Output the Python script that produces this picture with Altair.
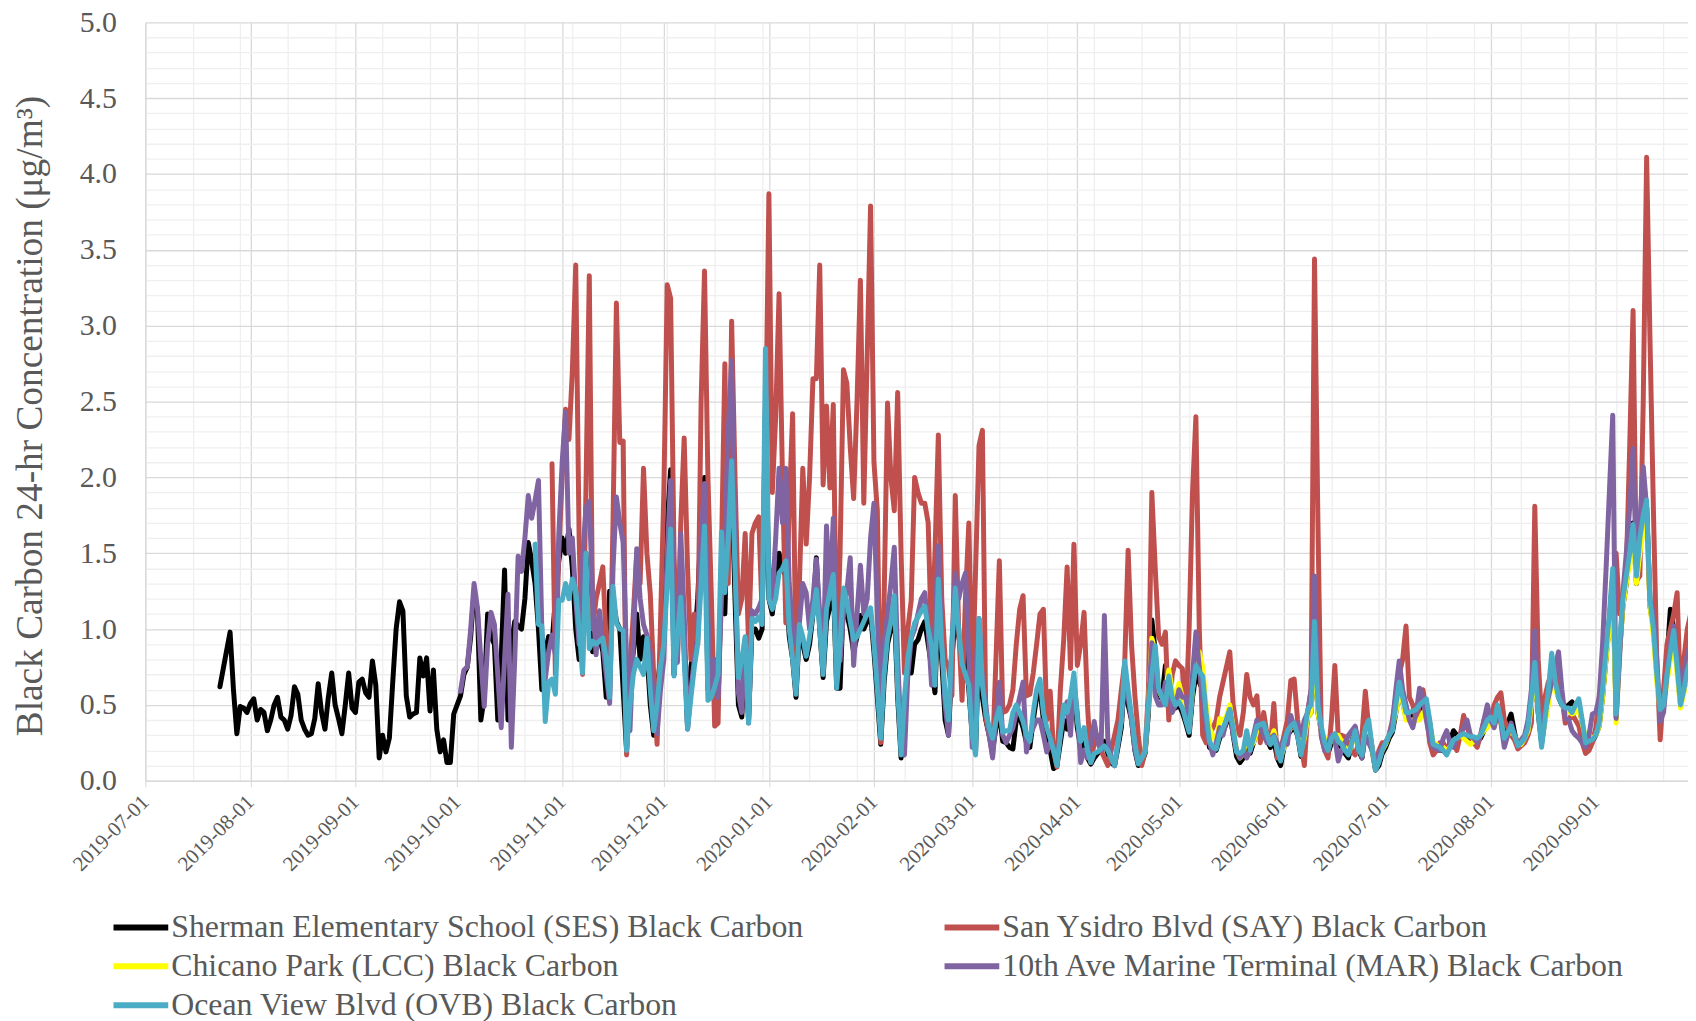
import altair as alt
import pandas as pd

# ---------------- data (daily 24-hr black carbon, ug/m3) ----------------
SERIES = [
    "Sherman Elementary School (SES) Black Carbon",
    "San Ysidro Blvd (SAY) Black Carbon",
    "Chicano Park (LCC) Black Carbon",
    "10th Ave Marine Terminal (MAR) Black Carbon",
    "Ocean View Blvd (OVB) Black Carbon",
]
COLORS = ["#000000", "#C0504D", "#FFFF00", "#8064A2", "#4BACC6"]
STARTS = ["2019-07-23", "2019-10-29", "2020-04-20", "2019-10-02", "2019-10-24"]
# legend is filled column by column: SES, LCC, OVB | SAY, MAR
LEGEND_ORDER = [0, 2, 4, 1, 3]

ses = [
    0.62, 0.74, 0.86, 0.98, 0.60, 0.31, 0.49, 0.48, 0.45, 0.51,
    0.54, 0.40, 0.47, 0.45, 0.33, 0.40, 0.50, 0.55, 0.42, 0.40,
    0.34, 0.43, 0.62, 0.57, 0.40, 0.34, 0.30, 0.31, 0.41, 0.64,
    0.45, 0.34, 0.55, 0.71, 0.50, 0.41, 0.31, 0.50, 0.71, 0.48,
    0.45, 0.65, 0.67, 0.58, 0.55, 0.79, 0.63, 0.15, 0.30, 0.19,
    0.28, 0.65, 1.00, 1.18, 1.12, 0.56, 0.42, 0.44, 0.45, 0.81,
    0.69, 0.81, 0.46, 0.73, 0.34, 0.19, 0.27, 0.12, 0.12, 0.44,
    0.50,
    0.56, 0.70, 0.75, 0.95, 1.25, 1.12, 0.40, 0.55, 1.10, 0.95,
    0.90, 0.40, 0.80, 1.39, 0.40, 0.90, 1.05, 1.02, 1.00, 1.20,
    1.57, 1.45, 1.30, 1.00, 0.60, 0.85, 0.95, 0.90, 1.20, 1.45,
    1.60, 1.50, 1.66, 1.40, 1.00, 0.80, 1.45, 1.50, 1.00, 0.85,
    1.05, 0.95, 0.85, 0.55, 1.25, 1.20, 1.05, 1.00, 0.60, 0.20,
    0.70, 0.85, 1.10, 0.80, 0.95, 0.85, 0.50, 0.30, 0.60, 0.80,
    1.50, 1.70, 2.05, 0.70, 1.20, 1.40, 0.90, 0.35, 0.75, 0.90,
    1.20, 1.70, 2.00, 0.60, 0.85,
    0.70, 0.50, 1.40, 1.10, 1.90, 2.00, 1.20, 0.50, 0.42, 0.90,
    0.40, 1.00, 1.00, 0.94, 1.00, 2.50, 1.20, 1.10, 1.30, 1.50,
    1.40, 1.35, 0.95, 0.80, 0.55, 1.00, 0.90, 0.80, 0.90, 1.10,
    1.47, 1.00, 0.68, 1.05, 1.15, 1.30, 0.61, 0.61, 1.20, 1.10,
    1.00, 0.85, 0.95, 1.09, 1.00, 1.05, 1.10, 0.85, 0.55, 0.24,
    0.65, 0.90, 1.00, 1.15, 0.55, 0.15, 0.50, 0.71, 0.71, 0.90,
    0.93, 1.00, 1.05, 0.90, 0.75, 0.58, 1.20, 0.80, 0.40, 0.30,
    0.80, 1.10, 0.95, 0.84, 0.84, 0.60, 0.30, 0.20, 0.95,
    0.55, 0.40, 0.30, 0.20, 0.35, 0.45, 0.26, 0.25, 0.22, 0.21,
    0.40, 0.42, 0.35, 0.25, 0.22, 0.40, 0.55, 0.60, 0.40, 0.30,
    0.20, 0.08, 0.10, 0.25, 0.40, 0.34, 0.50, 0.65, 0.35, 0.22,
    0.30, 0.15, 0.11, 0.15, 0.18, 0.20, 0.26, 0.18, 0.12, 0.10,
    0.22, 0.35, 0.70, 0.50, 0.40, 0.20, 0.10, 0.12, 0.18, 0.45,
    1.06, 0.85, 0.55, 0.55, 0.76, 0.65, 0.50, 0.48, 0.50, 0.45,
    0.38, 0.30, 0.55, 0.70, 0.65, 0.60, 0.40, 0.22, 0.20, 0.20,
    0.28, 0.32, 0.38, 0.45, 0.30, 0.16, 0.12, 0.15,
    0.28, 0.18, 0.25, 0.33, 0.34, 0.35, 0.27, 0.22, 0.27, 0.15,
    0.10, 0.22, 0.30, 0.33, 0.35, 0.30, 0.16, 0.27, 0.42, 0.45,
    0.95, 0.45, 0.33, 0.22, 0.18, 0.25, 0.28, 0.24, 0.22, 0.18,
    0.15, 0.25, 0.35, 0.20, 0.15, 0.32, 0.36, 0.20, 0.07, 0.10,
    0.18, 0.22, 0.28, 0.32, 0.45, 0.60, 0.52, 0.42, 0.42, 0.43,
    0.44, 0.46, 0.48, 0.50, 0.38, 0.22, 0.21, 0.20, 0.20, 0.18,
    0.26, 0.33, 0.30, 0.30, 0.30, 0.28, 0.27, 0.27, 0.26, 0.28,
    0.33, 0.38, 0.40, 0.36,
    0.45, 0.40, 0.30, 0.38, 0.44, 0.32, 0.22, 0.24, 0.27, 0.33,
    0.50, 0.75, 0.45, 0.25, 0.40, 0.55, 0.75, 0.62, 0.55, 0.50,
    0.48, 0.50, 0.52, 0.48, 0.50, 0.38, 0.22, 0.24, 0.26, 0.30,
    0.36, 0.55, 0.80, 1.05, 1.35, 0.42, 0.85, 1.15, 1.30, 1.50,
    1.70, 1.30, 1.55, 1.75, 1.80, 1.15, 1.00, 0.70, 0.45, 0.55,
    0.80, 1.13, 1.00, 0.75, 0.50, 0.60, 0.70, 0.78,
]

say = [
    2.09, 0.70, 1.50, 2.00, 2.45, 2.25, 2.70, 3.40, 1.60, 0.70,
    1.90, 3.33, 1.00, 1.20, 1.30, 1.41, 0.90, 0.56, 1.70, 3.15,
    2.23, 2.24, 0.17, 0.75, 1.10, 1.50, 1.30, 2.06, 1.50, 1.23,
    0.70, 0.24, 1.03, 1.90, 3.27, 3.18, 1.50, 0.80, 1.70, 2.26,
    1.40, 0.80, 1.10, 0.90, 2.50, 3.36, 2.00, 1.23, 0.36,
    0.38, 1.50, 2.75, 1.30, 3.03, 2.00, 1.10, 1.20, 1.63, 0.90,
    1.63, 1.70, 1.74, 1.10, 2.20, 3.87, 1.90, 2.40, 3.21, 2.00,
    1.04, 1.80, 2.42, 0.71, 1.30, 2.06, 1.56, 2.00, 2.65, 2.65,
    3.40, 1.95, 2.47, 1.93, 2.48, 0.76, 1.50, 2.71, 2.62, 2.20,
    1.86, 2.50, 3.30, 1.83, 2.80, 3.79, 2.10, 1.78, 0.25, 1.20,
    2.49, 2.00, 1.78, 2.56, 1.50, 0.71, 1.00, 1.19, 2.00, 1.90,
    1.83, 1.83, 1.70, 0.90, 1.50, 2.28, 1.20, 0.80, 0.75, 0.56,
    1.88, 1.00, 0.53, 1.20, 1.70, 0.60, 1.40, 2.21,
    2.31, 0.41, 0.30, 0.17, 0.80, 1.45, 0.45, 0.46, 0.50, 0.60,
    0.90, 1.13, 1.22, 0.56, 0.57, 0.71, 0.90, 1.10, 1.13, 0.40,
    0.59, 0.20, 0.09, 0.60, 0.93, 1.41, 0.74, 1.56, 0.76, 0.90,
    1.11, 0.50, 0.12, 0.25, 0.30, 0.20, 0.15, 0.10, 0.20, 0.30,
    0.40, 0.60, 0.78, 1.52, 0.90, 0.56, 0.30, 0.10, 0.19, 0.60,
    1.90, 1.40, 0.95, 0.90, 0.98, 0.40, 0.70, 0.79, 0.76, 0.74,
    0.40, 1.00, 1.90, 2.40, 1.00, 0.30, 0.25, 0.30, 0.35, 0.40,
    0.55, 0.65, 0.75, 0.85, 0.50, 0.35, 0.30, 0.45,
    0.70, 0.55, 0.50, 0.56, 0.25, 0.45, 0.30, 0.24, 0.51, 0.15,
    0.20, 0.30, 0.40, 0.66, 0.67, 0.40, 0.25, 0.10, 0.45, 0.60,
    3.44, 1.71, 0.29, 0.20, 0.15, 0.40, 0.76, 0.29, 0.30, 0.29,
    0.25, 0.20, 0.17, 0.25, 0.30, 0.59, 0.35, 0.22, 0.08, 0.20,
    0.25, 0.25, 0.30, 0.40, 0.55, 0.70, 0.80, 1.02, 0.55, 0.50,
    0.40, 0.50, 0.60, 0.45, 0.25, 0.17, 0.20, 0.25, 0.25, 0.20,
    0.25, 0.25, 0.20, 0.30, 0.43, 0.35, 0.30, 0.25, 0.22, 0.30,
    0.40, 0.45, 0.40, 0.50,
    0.55, 0.58, 0.40, 0.35, 0.30, 0.27, 0.21, 0.23, 0.25, 0.30,
    0.38, 1.81, 0.80, 0.41, 0.55, 0.65, 0.70, 0.74, 0.60, 0.55,
    0.38, 0.40, 0.44, 0.40, 0.36, 0.25, 0.18, 0.20, 0.25, 0.35,
    0.55, 0.70, 0.83, 1.00, 1.24, 1.50, 1.10, 1.20, 1.38, 2.20,
    3.10, 1.32, 1.35, 2.50, 4.11, 2.90, 1.79, 0.80, 0.27, 0.60,
    0.90, 1.00, 1.10, 1.24, 0.55, 0.80, 1.00, 1.10,
]

lcc = [
    0.15, 0.20, 0.50, 0.94, 0.85, 0.60, 0.55, 0.60, 0.73, 0.60,
    0.55, 0.64, 0.55, 0.45, 0.35, 0.60, 0.80, 0.85, 0.75, 0.50,
    0.35, 0.30, 0.25, 0.41, 0.40, 0.42, 0.50, 0.35, 0.20, 0.15,
    0.18,
    0.30, 0.22, 0.25, 0.33, 0.35, 0.36, 0.28, 0.26, 0.33, 0.22,
    0.15, 0.22, 0.30, 0.35, 0.36, 0.33, 0.20, 0.28, 0.42, 0.45,
    0.95, 0.45, 0.33, 0.28, 0.22, 0.27, 0.30, 0.30, 0.26, 0.22,
    0.18, 0.24, 0.30, 0.22, 0.18, 0.33, 0.35, 0.20, 0.09, 0.14,
    0.20, 0.24, 0.30, 0.36, 0.45, 0.58, 0.52, 0.40, 0.40, 0.40,
    0.40, 0.40, 0.45, 0.48, 0.38, 0.25, 0.24, 0.22, 0.22, 0.20,
    0.22, 0.25, 0.28, 0.30, 0.28, 0.26, 0.24, 0.26, 0.28, 0.30,
    0.33, 0.35, 0.38, 0.36,
    0.45, 0.38, 0.28, 0.30, 0.33, 0.30, 0.25, 0.24, 0.28, 0.33,
    0.50, 0.70, 0.48, 0.28, 0.38, 0.50, 0.68, 0.60, 0.55, 0.52,
    0.45, 0.46, 0.44, 0.45, 0.50, 0.38, 0.28, 0.30, 0.28, 0.30,
    0.36, 0.55, 0.80, 1.00, 1.30, 0.38, 0.85, 1.15, 1.30, 1.45,
    1.60, 1.30, 1.50, 1.65, 1.70, 1.15, 0.95, 0.65, 0.45, 0.50,
    0.65, 0.80, 0.95, 0.70, 0.48, 0.58, 0.70, 0.75,
]

mar = [
    0.59, 0.73, 0.75, 1.00, 1.30, 1.14, 0.80, 0.49, 0.90, 1.11,
    1.03, 0.70, 0.35, 0.80, 1.23, 0.22, 0.80, 1.48, 1.38, 1.60,
    1.88, 1.73, 1.85, 1.98, 0.99, 0.67, 0.85, 0.96, 0.83, 1.62,
    2.10, 2.43, 1.50, 1.60, 1.20, 0.90, 1.45, 1.80, 1.84, 1.20,
    0.83, 1.12, 0.90, 0.70, 0.51, 1.40, 1.87, 1.70, 1.57, 0.80,
    0.33, 0.90, 1.53, 1.20, 1.03, 0.96, 0.85, 0.50, 0.31, 0.60,
    0.80, 1.50, 1.98, 1.20, 0.78, 1.63, 1.10, 0.34, 0.60, 0.80,
    0.94, 1.60, 1.96, 1.10, 0.56, 0.80,
    0.55, 1.20, 1.60, 2.30, 2.77, 1.50, 0.58, 0.45, 0.94, 0.38,
    1.12, 1.10, 1.14, 1.20, 2.00, 1.40, 1.20, 1.60, 2.06, 1.70,
    2.06, 1.30, 1.00, 0.90, 1.04, 1.30, 1.24, 1.00, 1.20, 1.46,
    1.10, 0.76, 1.68, 1.20, 1.73, 1.00, 0.79, 1.10, 1.25, 1.47,
    0.76, 1.10, 1.42, 1.10, 1.20, 1.60, 1.83, 1.10, 0.30, 0.90,
    1.10, 1.30, 1.54, 0.80, 0.30, 0.17, 0.70, 0.94, 1.00, 1.10,
    1.20, 1.24, 1.00, 0.63, 1.00, 1.55, 0.90, 0.50, 0.30, 0.90,
    1.37, 1.20, 1.30, 1.37, 0.80, 0.22, 0.70, 1.07,
    0.65, 0.50, 0.30, 0.15, 0.40, 0.65, 0.30, 0.25, 0.30, 0.35,
    0.45, 0.55, 0.65, 0.19, 0.30, 0.35, 0.40, 0.40, 0.30, 0.19,
    0.25, 0.20, 0.15, 0.30, 0.45, 0.52, 0.30, 0.65, 0.45, 0.12,
    0.20, 0.15, 0.25, 0.39, 0.25, 0.20, 1.09, 0.28, 0.15, 0.10,
    0.25, 0.40, 0.65, 0.55, 0.40, 0.20, 0.12, 0.15, 0.20, 0.50,
    0.91, 0.56, 0.50, 0.50, 0.65, 0.60, 0.45, 0.50, 0.60, 0.55,
    0.55, 0.40, 0.70, 0.98, 0.75, 0.55, 0.35, 0.25, 0.17, 0.25,
    0.35, 0.30, 0.40, 0.47, 0.30, 0.20, 0.15, 0.20,
    0.15, 0.20, 0.30, 0.40, 0.35, 0.30, 0.25, 0.28, 0.30, 0.25,
    0.20, 0.28, 0.24, 0.43, 0.35, 0.38, 0.30, 0.40, 0.45, 0.60,
    1.35, 0.60, 0.30, 0.20, 0.25, 0.30, 0.28, 0.13, 0.20, 0.25,
    0.30, 0.33, 0.36, 0.25, 0.15, 0.30, 0.25, 0.20, 0.10, 0.18,
    0.22, 0.25, 0.30, 0.38, 0.60, 0.79, 0.60, 0.50, 0.40, 0.35,
    0.45, 0.61, 0.55, 0.40, 0.28, 0.22, 0.21, 0.20, 0.28, 0.33,
    0.25, 0.22, 0.28, 0.30, 0.35, 0.40, 0.30, 0.28, 0.25, 0.30,
    0.40, 0.50, 0.40, 0.35,
    0.45, 0.38, 0.22, 0.30, 0.38, 0.30, 0.25, 0.27, 0.30, 0.40,
    0.60, 0.99, 0.50, 0.30, 0.45, 0.55, 0.65, 0.75, 0.85, 0.60,
    0.41, 0.40, 0.33, 0.30, 0.28, 0.25, 0.22, 0.30, 0.44, 0.45,
    0.55, 0.90, 1.38, 1.90, 2.41, 0.41, 0.80, 1.24, 1.50, 1.80,
    2.19, 1.38, 1.70, 2.07, 1.80, 1.19, 1.10, 0.80, 0.39, 0.45,
    0.70, 0.90, 1.02, 0.80, 0.63, 0.70, 0.83, 0.90,
]

ovb = [
    1.56, 1.03, 1.02, 0.39, 0.65, 0.67, 0.57, 1.19, 1.19, 1.30,
    1.20, 1.33, 1.26, 1.00, 0.71, 1.50, 0.87, 0.92, 0.90, 0.92,
    0.94, 0.80, 0.55, 1.28, 1.04, 1.00, 0.99, 0.20, 0.50, 0.70,
    0.80, 0.75, 0.70, 0.94, 0.60, 0.33, 0.50, 0.75, 0.90, 1.30,
    1.66, 0.69, 0.95, 1.21, 0.80, 0.34, 0.55, 0.75, 0.90, 1.30,
    1.68, 0.53, 0.55, 0.62,
    0.70, 1.64, 1.24, 1.60, 2.11, 1.40, 0.68, 0.80, 0.95, 0.38,
    1.07, 1.05, 1.08, 1.03, 2.85, 1.20, 1.13, 1.20, 1.37, 1.40,
    1.45, 1.00, 0.80, 0.57, 1.03, 0.95, 0.82, 0.95, 1.10, 1.26,
    1.00, 0.70, 1.13, 1.25, 1.36, 0.61, 0.90, 1.27, 1.18, 1.05,
    0.93, 0.95, 1.00, 1.05, 1.10, 1.14, 0.90, 0.60, 0.28, 0.70,
    0.94, 1.05, 1.22, 0.60, 0.17, 0.55, 0.81, 0.95, 1.04, 1.08,
    1.12, 1.15, 1.00, 0.89, 0.63, 1.33, 0.90, 0.56, 0.40, 0.90,
    1.27, 1.00, 0.77, 0.70, 0.63, 0.30, 0.17, 1.07,
    0.63, 0.45, 0.35, 0.28, 0.40, 0.48, 0.32, 0.33, 0.33, 0.45,
    0.50, 0.45, 0.39, 0.30, 0.26, 0.45, 0.60, 0.67, 0.45, 0.35,
    0.28, 0.20, 0.10, 0.30, 0.50, 0.45, 0.55, 0.71, 0.40, 0.26,
    0.35, 0.20, 0.12, 0.18, 0.19, 0.21, 0.23, 0.20, 0.15, 0.10,
    0.25, 0.39, 0.79, 0.60, 0.43, 0.25, 0.11, 0.15, 0.19, 0.50,
    0.70, 0.89, 0.61, 0.55, 0.50, 0.69, 0.55, 0.50, 0.52, 0.48,
    0.40, 0.32, 0.60, 0.76, 0.72, 0.69, 0.45, 0.26, 0.22, 0.21,
    0.30, 0.35, 0.40, 0.47, 0.35, 0.19, 0.18, 0.20,
    0.33, 0.20, 0.28, 0.36, 0.37, 0.38, 0.30, 0.24, 0.29, 0.20,
    0.13, 0.25, 0.33, 0.36, 0.38, 0.30, 0.17, 0.30, 0.47, 0.50,
    1.05, 0.50, 0.36, 0.25, 0.20, 0.28, 0.31, 0.26, 0.24, 0.20,
    0.17, 0.25, 0.33, 0.20, 0.17, 0.35, 0.40, 0.22, 0.07, 0.12,
    0.20, 0.25, 0.30, 0.33, 0.50, 0.65, 0.55, 0.45, 0.45, 0.46,
    0.47, 0.50, 0.52, 0.54, 0.40, 0.24, 0.23, 0.22, 0.20, 0.17,
    0.22, 0.27, 0.28, 0.30, 0.31, 0.30, 0.29, 0.29, 0.28, 0.30,
    0.35, 0.40, 0.42, 0.38,
    0.50, 0.40, 0.28, 0.32, 0.36, 0.30, 0.23, 0.25, 0.28, 0.35,
    0.55, 0.78, 0.45, 0.22, 0.40, 0.60, 0.84, 0.66, 0.55, 0.50,
    0.48, 0.48, 0.45, 0.50, 0.54, 0.40, 0.25, 0.26, 0.27, 0.30,
    0.38, 0.60, 0.85, 1.10, 1.40, 0.44, 0.90, 1.20, 1.35, 1.50,
    1.69, 1.35, 1.60, 1.75, 1.85, 1.19, 1.00, 0.70, 0.47, 0.50,
    0.70, 0.85, 0.99, 0.75, 0.50, 0.60, 0.73, 0.80,
]

VALUES = [ses, say, lcc, mar, ovb]

Y_TICKS = [0.0, 0.5, 1.0, 1.5, 2.0, 2.5, 3.0, 3.5, 4.0, 4.5, 5.0]
Y_TITLE = "Black Carbon 24-hr Concentration (\u03bcg/m\u00b3)"

# ---------------- table ----------------
frames = []
for name, start, vals in zip(SERIES, STARTS, VALUES):
    frames.append(pd.DataFrame({
        "date": pd.date_range(start, periods=len(vals), freq="D"),
        "value": vals,
        "series": name,
    }))
df = pd.concat(frames, ignore_index=True)


def dt(ts):
    return alt.DateTime(year=ts.year, month=ts.month, date=ts.day, hours=ts.hour)


month_ticks = [dt(t) for t in pd.date_range("2019-07-01", "2020-09-01", freq="MS")]
minor_x = [dt(t) for t in pd.date_range("2019-07-15", "2020-09-30", freq="14D")]
minor_y = [round(i / 10, 1) for i in range(1, 50) if i % 5 != 0]

FONT = "Liberation Serif"
TXT = "#595959"

x_scale = alt.Scale(domain=[dt(pd.Timestamp("2019-07-01")), dt(pd.Timestamp("2020-09-28 05:00"))], nice=False)
y_scale = alt.Scale(domain=[0, 5], nice=False)
color_scale = alt.Scale(domain=[SERIES[i] for i in LEGEND_ORDER],
                        range=[COLORS[i] for i in LEGEND_ORDER])

# minor grid layer (invisible line, only its axes' gridlines are seen)
minor = alt.Chart(df).mark_line(opacity=0).encode(
    x=alt.X("date:T", scale=x_scale, axis=alt.Axis(
        values=minor_x, grid=True, gridColor="#EFEFEF", gridWidth=1.3,
        labels=False, ticks=False, domain=False, title=None, orient="bottom")),
    y=alt.Y("value:Q", scale=y_scale, axis=alt.Axis(
        values=minor_y, grid=True, gridColor="#EFEFEF", gridWidth=1.3,
        labels=False, ticks=False, domain=False, title=None, orient="left")),
)

x_main = alt.X("date:T", scale=x_scale, axis=alt.Axis(
    values=month_ticks, format="%Y-%m-%d", labelAngle=315,
    labelAlign="right", labelBaseline="middle", labelFontSize=21,
    labelFont=FONT, labelColor=TXT, labelPadding=12, tickSize=6,
    tickColor="#D9D9D9", domainColor="#D9D9D9", grid=True,
    gridColor="#D9D9D9", gridWidth=1.3, title=None, orient="bottom",
    labelOverlap=False))
y_main = alt.Y("value:Q", scale=y_scale, axis=alt.Axis(
    values=Y_TICKS, format=".1f", labelFontSize=30, labelFont=FONT,
    labelColor=TXT, labelPadding=29, ticks=False, tickSize=0,
    domainColor="#D9D9D9", grid=True, gridColor="#D9D9D9", gridWidth=1.3,
    title=Y_TITLE, titleFont=FONT, titleFontSize=37.5, titleColor=TXT,
    titleFontWeight="normal", titlePadding=30, titleY=395, orient="left",
    labelOverlap=False))

legend = alt.Legend(
    title=None, orient="none", legendX=-35, legendY=890, columns=2,
    symbolType="stroke", symbolSize=3025, symbolStrokeWidth=6,
    labelFont=FONT, labelFontSize=32, labelColor=TXT, labelLimit=0,
    columnPadding=138, rowPadding=0, clipHeight=39, labelOffset=0)

lines = []
for name in SERIES:
    lines.append(
        alt.Chart(df).transform_filter(alt.datum.series == name)
        .mark_line(strokeWidth=5, strokeJoin="round", strokeCap="round", clip=True)
        .encode(x=x_main, y=y_main,
                color=alt.Color("series:N", scale=color_scale, legend=legend))
    )

chart = (
    alt.layer(minor, alt.layer(*lines))
    .resolve_axis(x="independent", y="independent")
    .properties(
        width=1550, height=762,
        autosize=alt.AutoSizeParams(type="none"),
        padding={"left": 138, "top": 12, "right": 0, "bottom": 239},
    )
    .configure_view(stroke=None)
)

chart.save("out.html", embed_options={"renderer": "svg", "actions": False})
